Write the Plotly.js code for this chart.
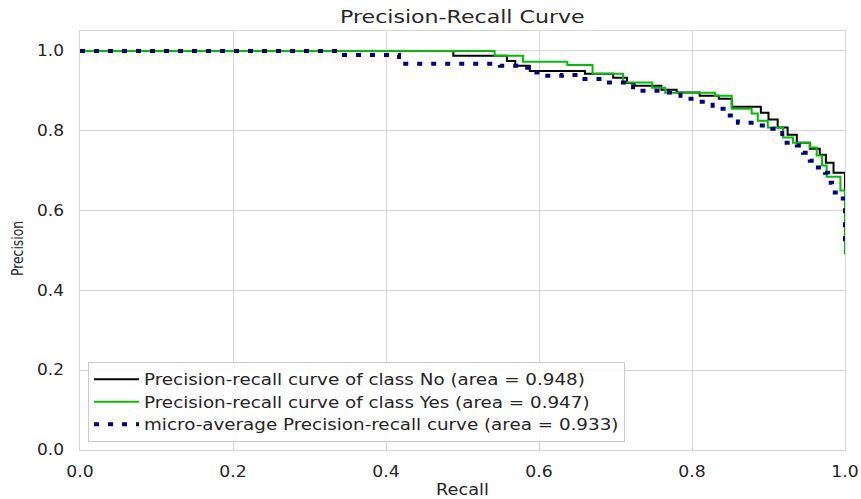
<!DOCTYPE html>
<html>
<head>
<meta charset="utf-8">
<script src="https://cdn.plot.ly/plotly-3.0.1.min.js"></script>
<style>
  html, body { margin: 0; padding: 0; background: #fff; }
  #chart { width: 861px; height: 499px; }
</style>
</head>
<body>
<div id="chart"></div>
<script>
// Precision-recall staircase for class "No"
const recallNo = [0, 0.488, 0.558, 0.569, 0.588, 0.660, 0.697, 0.715, 0.725, 0.760, 0.780, 0.810, 0.835, 0.852, 0.890, 0.900, 0.912, 0.925, 0.937, 0.954, 0.967, 0.975, 0.985, 1.0];
const precisionNo = [1.0, 0.988, 0.975, 0.963, 0.950, 0.943, 0.933, 0.920, 0.913, 0.903, 0.896, 0.888, 0.880, 0.860, 0.845, 0.828, 0.808, 0.790, 0.770, 0.755, 0.740, 0.720, 0.695, 0.510];

// Precision-recall staircase for class "Yes"
const recallYes = [0, 0.542, 0.579, 0.637, 0.670, 0.710, 0.748, 0.765, 0.830, 0.852, 0.878, 0.886, 0.899, 0.919, 0.932, 0.954, 0.963, 0.970, 0.976, 0.994, 1.0];
const precisionYes = [1.0, 0.988, 0.973, 0.965, 0.943, 0.921, 0.908, 0.895, 0.888, 0.855, 0.843, 0.825, 0.808, 0.783, 0.770, 0.758, 0.738, 0.713, 0.685, 0.650, 0.490];

// Micro-averaged curve
const recallMicro = [0, 0.345, 0.417, 0.549, 0.575, 0.590, 0.604, 0.630, 0.655, 0.685, 0.723, 0.760, 0.785, 0.807, 0.827, 0.846, 0.860, 0.885, 0.905, 0.918, 0.937, 0.945, 0.954, 0.961, 0.974, 0.978, 0.983, 0.993, 1.0];
const precisionMicro = [1.0, 0.990, 0.968, 0.963, 0.958, 0.946, 0.938, 0.940, 0.930, 0.921, 0.900, 0.896, 0.880, 0.873, 0.855, 0.838, 0.820, 0.813, 0.805, 0.770, 0.763, 0.745, 0.725, 0.708, 0.695, 0.670, 0.645, 0.630, 0.500];

const areaNo = 0.948, areaYes = 0.947, areaMicro = 0.933;
const tickVals = [0, 0.2, 0.4, 0.6, 0.8, 1.0];
const tickText = ["0.0", "0.2", "0.4", "0.6", "0.8", "1.0"];

const FONT = "DejaVu Sans, sans-serif";
const INK = "#262626";
const GRID = "#d9d9d9";

const traces = [
  {
    x: recallNo, y: precisionNo, type: "scatter", mode: "lines",
    line: { color: "#000000", width: 2, shape: "hv" },
    name: `Precision-recall curve of class No (area = ${areaNo.toFixed(3)})`
  },
  {
    x: recallYes, y: precisionYes, type: "scatter", mode: "lines",
    line: { color: "#00c000", width: 2, shape: "hv" },
    name: `Precision-recall curve of class Yes (area = ${areaYes.toFixed(3)})`
  },
  {
    x: recallMicro, y: precisionMicro, type: "scatter", mode: "lines",
    line: { color: "#000080", width: 4, shape: "hv", dash: "5px,9px" },
    name: `micro-average Precision-recall curve (area = ${areaMicro.toFixed(3)})`
  }
];

const layout = {
  width: 861, height: 499,
  margin: { l: 80, r: 16, t: 31, b: 49 },
  paper_bgcolor: "#ffffff", plot_bgcolor: "#ffffff",
  font: { family: FONT, color: INK, size: 15 },
  title: {
    text: "Precision-Recall Curve",
    font: { family: FONT, size: 17, color: INK },
    x: 0.537, xanchor: "center", y: 0.966, yanchor: "middle"
  },
  xaxis: {
    range: [0, 1], tickvals: tickVals, ticktext: tickText,
    showgrid: true, gridcolor: GRID, gridwidth: 1,
    zeroline: false, showline: true, mirror: true, linecolor: GRID, linewidth: 1,
    ticks: "", ticklabelstandoff: 8,
    tickfont: { family: FONT, size: 15, color: INK },
    title: { text: "Recall", font: { family: FONT, size: 15, color: INK }, standoff: 6 }
  },
  yaxis: {
    range: [0, 1.05], tickvals: tickVals, ticktext: tickText,
    showgrid: true, gridcolor: GRID, gridwidth: 1,
    zeroline: false, showline: true, mirror: true, linecolor: GRID, linewidth: 1,
    ticks: "", ticklabelstandoff: 12,
    tickfont: { family: FONT, size: 15, color: INK },
    title: { text: "Precision", font: { family: FONT, size: 16, color: INK }, standoff: 12 }
  },
  showlegend: true,
  legend: {
    x: 0.0105, xanchor: "left", y: 0.019, yanchor: "bottom",
    bgcolor: "rgba(255,255,255,0.85)", bordercolor: "#cccccc", borderwidth: 1,
    font: { family: FONT, size: 15, color: INK },
    itemwidth: 45, tracegroupgap: 0
  }
};

// Widen (or narrow) rendered text along its baseline by a given factor.
function stretchText(root, selector, factor) {
  root.querySelectorAll(selector).forEach(function (el) {
    const len = el.getComputedTextLength();
    if (len > 0) {
      el.setAttribute("textLength", (len * factor).toFixed(1));
      el.setAttribute("lengthAdjust", "spacingAndGlyphs");
    }
  });
}

const gd = document.getElementById("chart");
Plotly.newPlot(gd, traces, layout, { staticPlot: true, displayModeBar: false }).then(function () {
  stretchText(gd, ".gtitle", 1.30);
  stretchText(gd, ".xtick text", 1.15);
  stretchText(gd, ".ytick text", 1.13);
  stretchText(gd, ".g-xtitle text", 1.18);
  stretchText(gd, ".g-ytitle text", 0.77);

  // Legend entries: stretch, then size the box to the widest entry.
  const legend = gd.querySelector(".legend");
  if (legend) {
    const bg = legend.querySelector("rect.bg");
    const bgLeft = bg ? bg.getBoundingClientRect().left : 0;
    let right = 0;
    legend.querySelectorAll(".legendtext").forEach(function (t) {
      const left = t.getBoundingClientRect().left;
      const len = t.getComputedTextLength() * 1.22;
      t.setAttribute("textLength", len.toFixed(1));
      t.setAttribute("lengthAdjust", "spacingAndGlyphs");
      right = Math.max(right, left + len);
    });
    const scroll = legend.querySelector(".scrollbox");
    if (scroll) scroll.removeAttribute("clip-path");
    if (bg && right > bgLeft) bg.setAttribute("width", (right - bgLeft + 6).toFixed(1));
  }

  // Nudge the rotated y title slightly down the axis.
  const ytitle = gd.querySelector(".g-ytitle");
  if (ytitle) ytitle.setAttribute("transform", "translate(0,8)");
});
</script>
</body>
</html>
